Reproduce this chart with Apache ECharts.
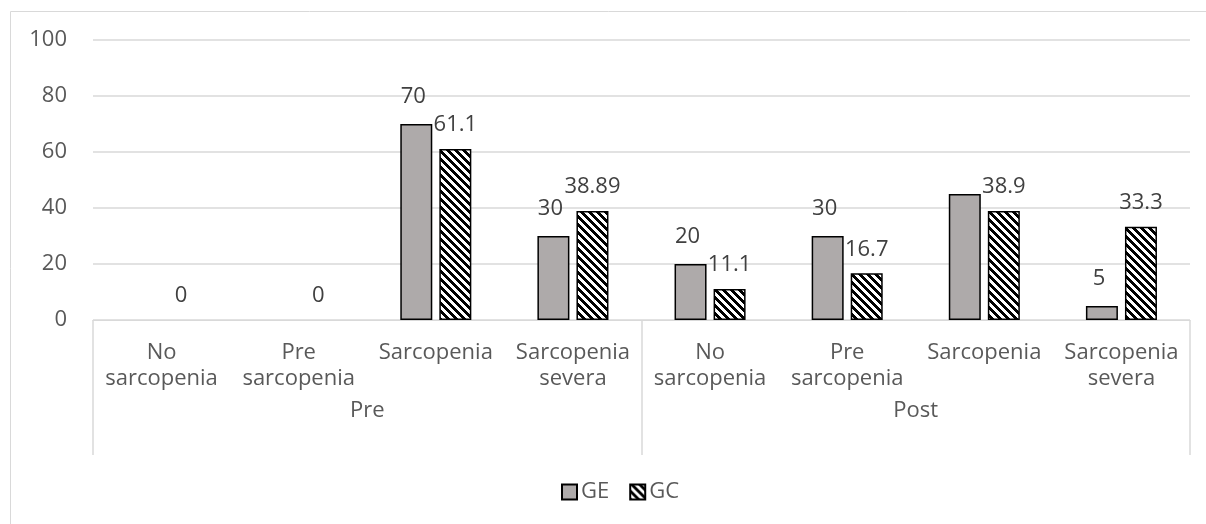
<!DOCTYPE html>
<html>
<head>
<meta charset="utf-8">
<script src="https://cdn.jsdelivr.net/npm/echarts@6/dist/echarts.min.js"></script>
<style>
html,body{margin:0;padding:0;background:#fff;}
#chart{width:1206px;height:524px;}
</style>
</head>
<body>
<div id="chart"></div>
<script>
const categories = ['No\nsarcopenia','Pre\nsarcopenia','Sarcopenia','Sarcopenia\nsevera','No\nsarcopenia','Pre\nsarcopenia','Sarcopenia','Sarcopenia\nsevera'];
const groups = ['Pre','Post'];
const geValues = [0, 0, 70, 30, 20, 30, 45, 5];
const gcValues = [0, 0, 61.1, 38.89, 11.1, 16.7, 38.9, 33.3];
const geLabels = ['', '', '70', '30', '20', '30', '', '5'];
const gcLabels = ['0', '0', '61.1', '38.89', '11.1', '16.7', '38.9', '33.3'];
const yTicks = [0, 20, 40, 60, 80, 100];

// diagonal stripe pattern
const pc = document.createElement('canvas');
pc.width = 8; pc.height = 8;
const ctx = pc.getContext('2d');
ctx.fillStyle = '#fff'; ctx.fillRect(0,0,8,8);
ctx.fillStyle = '#000';
for (let y = 0; y < 8; y++) for (let x = 0; x < 8; x++) {
  if (((x - y) % 8 + 8) % 8 < 4) ctx.fillRect(x, y, 1, 1);
}
const pattern = {image: pc, repeat: 'repeat'};

const FONT = '"Open Sans", sans-serif';
const FS = 22;
const chart = echarts.init(document.getElementById('chart'), null, {renderer: 'canvas'});

function mk(values) {
  return values.map(v => v === 0 ? {value: v, itemStyle: {borderWidth: 0}} : v);
}

chart.setOption({
  animation: false,
  textStyle: {fontFamily: FONT},
  graphic: [{
    type: 'rect', silent: true,
    shape: {x: 10.5, y: 11.5, width: 1210, height: 530},
    style: {fill: 'none', stroke: '#d9d9d9', lineWidth: 1}
  }],
  legend: {
    bottom: 16, left: 556,
    icon: 'rect',
    itemWidth: 15, itemHeight: 15, itemGap: 20,
    textStyle: {fontSize: FS, color: '#595959', fontFamily: FONT, padding: [0, 0, 0, -1]},
    data: ['GE', 'GC']
  },
  grid: {left: 93, right: 16, top: 40, bottom: 204, containLabel: false},
  xAxis: [{
    type: 'category', data: categories, position: 'bottom',
    axisLine: {show: true, lineStyle: {color: '#d9d9d9', width: 1}},
    axisTick: {show: false},
    axisLabel: {interval: 0, fontSize: FS, color: '#595959', lineHeight: 26, margin: 20, fontFamily: FONT}
  }, {
    type: 'category', data: groups, position: 'bottom',
    axisLine: {show: false},
    axisTick: {show: true, length: 135, lineStyle: {color: '#d9d9d9', width: 1.5}},
    axisLabel: {fontSize: FS, color: '#595959', margin: 80, fontFamily: FONT}
  }],
  yAxis: {
    type: 'value', min: yTicks[0], max: yTicks[yTicks.length-1], interval: 20,
    axisLine: {show: false}, axisTick: {show: false},
    axisLabel: {fontSize: FS, color: '#595959', margin: 26, fontFamily: FONT},
    splitLine: {lineStyle: {color: '#d9d9d9', width: 1.5}}
  },
  series: [{
    name: 'GE', type: 'bar', xAxisIndex: 0,
    data: mk(geValues), barWidth: 32, barGap: '22%',
    itemStyle: {color: '#aeaaaa', borderColor: '#000', borderWidth: 1.5},
    label: {show: true, position: 'top', distance: 16, offset: [-3, 0], fontSize: FS, color: '#404040', fontFamily: FONT,
      formatter: p => geLabels[p.dataIndex]}
  }, {
    name: 'GC', type: 'bar', xAxisIndex: 0,
    data: mk(gcValues), barWidth: 32, barGap: '22%',
    itemStyle: {color: pattern, borderColor: '#000', borderWidth: 1.5},
    label: {show: true, position: 'top', distance: 13, fontSize: FS, color: '#404040', fontFamily: FONT,
      formatter: p => gcLabels[p.dataIndex]}
  }]
});
</script>
</body>
</html>
